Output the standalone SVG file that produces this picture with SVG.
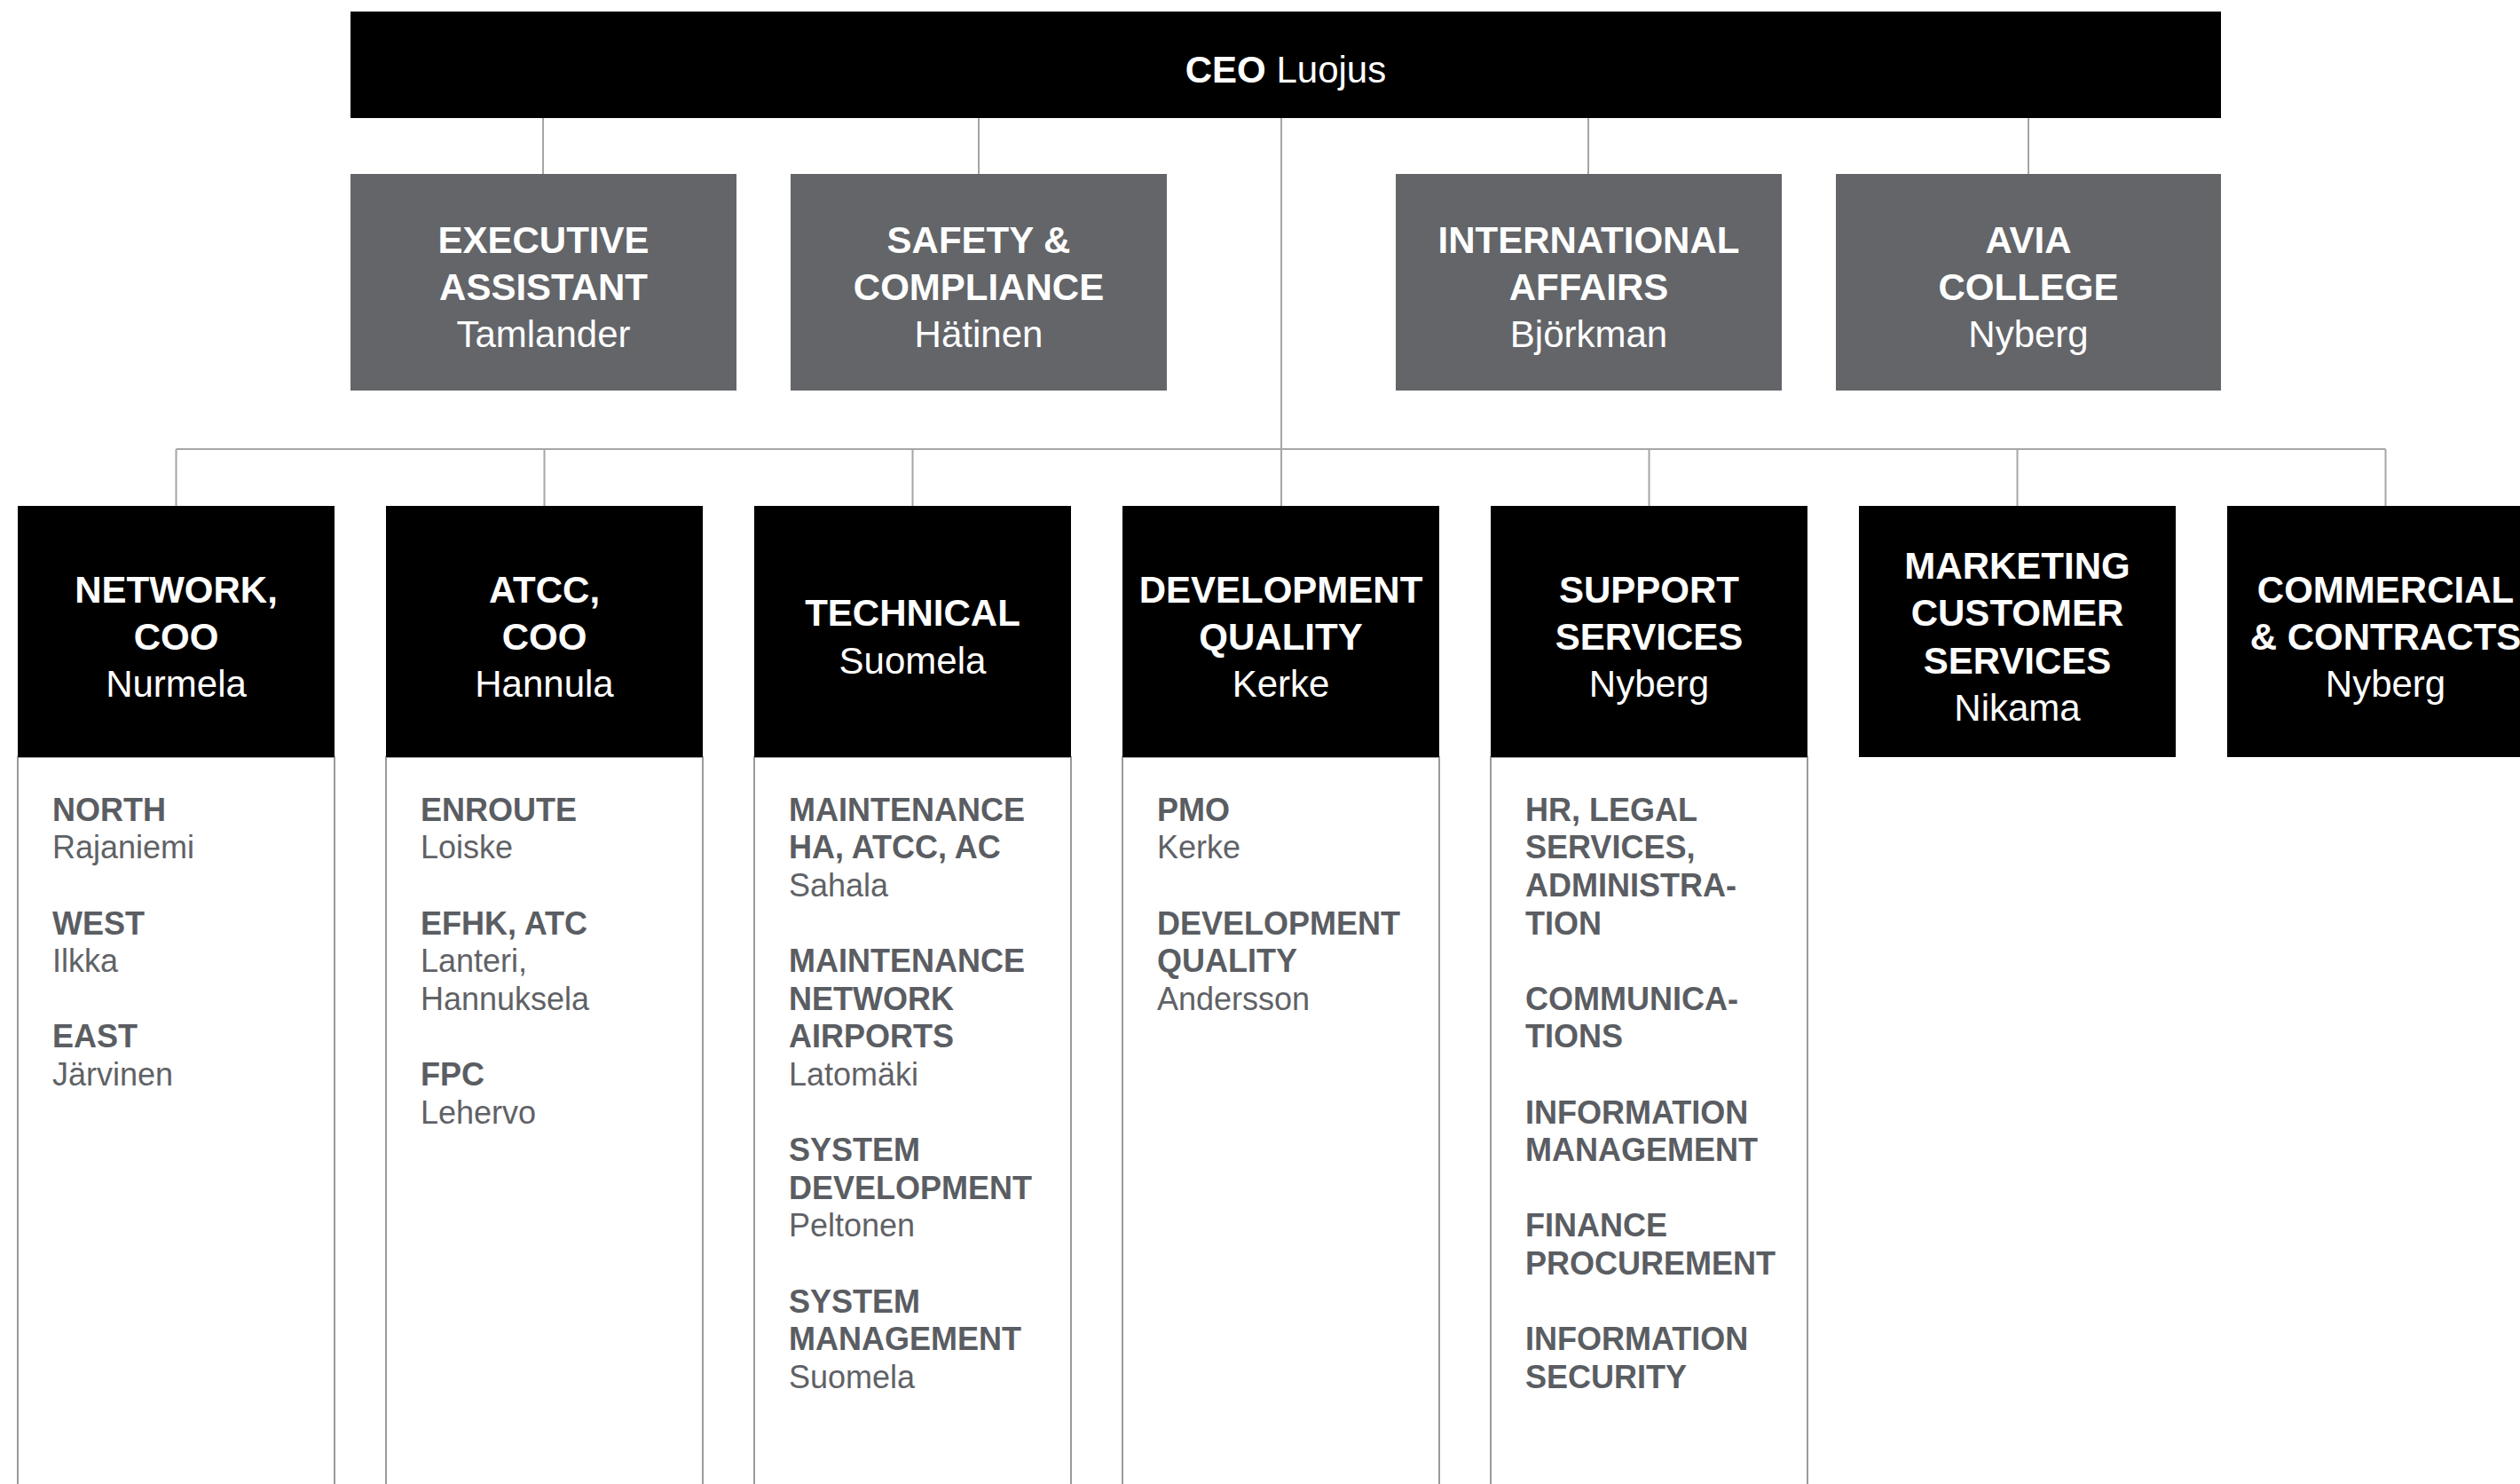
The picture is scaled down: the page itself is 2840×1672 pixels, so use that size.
<svg xmlns="http://www.w3.org/2000/svg" width="2840" height="1672" viewBox="0 0 2840 1672">
<style>
text{font-family:"Liberation Sans",Arial,sans-serif}
.hd{font-size:42px;fill:#fff;text-anchor:middle}
.b{font-weight:bold}
.grey{fill:#636569}
.blk{fill:#000}
.panel{fill:#fff;stroke:#9a9a9a;stroke-width:2}
.pt{font-size:36px;fill:#5f6266}
.pb{font-weight:bold;fill:#5a5d62}
.con{stroke:#a6a6a6;stroke-width:2;fill:none}
</style>
<rect width="2840" height="1672" fill="#fff"/>
<g id="connectors">
<path class="con" d="M1444 133V570M612 133V196M1103 133V196M1790 133V196M2286 133V196M198.5 506H2688.5M198.5 506V570M613.5 506V570M1028.5 506V570M1858.5 506V570M2273.5 506V570M2688.5 506V570"/>
</g>
<g id="ceo">
<rect class="blk" x="395" y="13" width="2108" height="120"/>
<text class="hd" x="1449" y="93"><tspan class="b">CEO</tspan> Luojus</text>
</g>
<g id="exec-assistant">
<rect class="grey" x="395" y="196" width="435" height="244"/>
<text class="hd"><tspan class="b" x="612.5" y="285">EXECUTIVE</tspan><tspan class="b" x="612.5" y="338">ASSISTANT</tspan><tspan x="612.5" y="391">Tamlander</tspan></text>
</g>
<g id="safety">
<rect class="grey" x="891" y="196" width="424" height="244"/>
<text class="hd"><tspan class="b" x="1103" y="285">SAFETY &amp;</tspan><tspan class="b" x="1103" y="338">COMPLIANCE</tspan><tspan x="1103" y="391">Hätinen</tspan></text>
</g>
<g id="international">
<rect class="grey" x="1573" y="196" width="435" height="244"/>
<text class="hd"><tspan class="b" x="1790.5" y="285">INTERNATIONAL</tspan><tspan class="b" x="1790.5" y="338">AFFAIRS</tspan><tspan x="1790.5" y="391">Björkman</tspan></text>
</g>
<g id="avia">
<rect class="grey" x="2069" y="196" width="434" height="244"/>
<text class="hd"><tspan class="b" x="2286" y="285">AVIA</tspan><tspan class="b" x="2286" y="338">COLLEGE</tspan><tspan x="2286" y="391">Nyberg</tspan></text>
</g>
<g id="network">
<rect class="panel" x="20" y="853" width="357" height="830"/>
<rect class="blk" x="20" y="570" width="357" height="283"/>
<text class="hd"><tspan class="b" x="198.5" y="679">NETWORK,</tspan><tspan class="b" x="198.5" y="732">COO</tspan><tspan x="198.5" y="785">Nurmela</tspan></text>
<text class="pt"><tspan class="pb" x="59" y="924.7">NORTH</tspan><tspan x="59" y="967.3">Rajaniemi</tspan><tspan class="pb" x="59" y="1052.5">WEST</tspan><tspan x="59" y="1095.1">Ilkka</tspan><tspan class="pb" x="59" y="1180.3">EAST</tspan><tspan x="59" y="1222.9">Järvinen</tspan></text>
</g>
<g id="atcc">
<rect class="panel" x="435" y="853" width="357" height="830"/>
<rect class="blk" x="435" y="570" width="357" height="283"/>
<text class="hd"><tspan class="b" x="613.5" y="679">ATCC,</tspan><tspan class="b" x="613.5" y="732">COO</tspan><tspan x="613.5" y="785">Hannula</tspan></text>
<text class="pt"><tspan class="pb" x="474" y="924.7">ENROUTE</tspan><tspan x="474" y="967.3">Loiske</tspan><tspan class="pb" x="474" y="1052.5">EFHK, ATC</tspan><tspan x="474" y="1095.1">Lanteri,</tspan><tspan x="474" y="1137.7">Hannuksela</tspan><tspan class="pb" x="474" y="1222.9">FPC</tspan><tspan x="474" y="1265.5">Lehervo</tspan></text>
</g>
<g id="technical">
<rect class="panel" x="850" y="853" width="357" height="830"/>
<rect class="blk" x="850" y="570" width="357" height="283"/>
<text class="hd"><tspan class="b" x="1028.5" y="705.3">TECHNICAL</tspan><tspan x="1028.5" y="758.6">Suomela</tspan></text>
<text class="pt"><tspan class="pb" x="889" y="924.7">MAINTENANCE</tspan><tspan class="pb" x="889" y="967.3">HA, ATCC, AC</tspan><tspan x="889" y="1009.9">Sahala</tspan><tspan class="pb" x="889" y="1095.1">MAINTENANCE</tspan><tspan class="pb" x="889" y="1137.7">NETWORK</tspan><tspan class="pb" x="889" y="1180.3">AIRPORTS</tspan><tspan x="889" y="1222.9">Latomäki</tspan><tspan class="pb" x="889" y="1308.1">SYSTEM</tspan><tspan class="pb" x="889" y="1350.7">DEVELOPMENT</tspan><tspan x="889" y="1393.3">Peltonen</tspan><tspan class="pb" x="889" y="1478.5">SYSTEM</tspan><tspan class="pb" x="889" y="1521.1">MANAGEMENT</tspan><tspan x="889" y="1563.7">Suomela</tspan></text>
</g>
<g id="development">
<rect class="panel" x="1265" y="853" width="357" height="830"/>
<rect class="blk" x="1265" y="570" width="357" height="283"/>
<text class="hd"><tspan class="b" x="1443.5" y="679">DEVELOPMENT</tspan><tspan class="b" x="1443.5" y="732">QUALITY</tspan><tspan x="1443.5" y="785">Kerke</tspan></text>
<text class="pt"><tspan class="pb" x="1304" y="924.7">PMO</tspan><tspan x="1304" y="967.3">Kerke</tspan><tspan class="pb" x="1304" y="1052.5">DEVELOPMENT</tspan><tspan class="pb" x="1304" y="1095.1">QUALITY</tspan><tspan x="1304" y="1137.7">Andersson</tspan></text>
</g>
<g id="support">
<rect class="panel" x="1680" y="853" width="357" height="830"/>
<rect class="blk" x="1680" y="570" width="357" height="283"/>
<text class="hd"><tspan class="b" x="1858.5" y="679">SUPPORT</tspan><tspan class="b" x="1858.5" y="732">SERVICES</tspan><tspan x="1858.5" y="785">Nyberg</tspan></text>
<text class="pt"><tspan class="pb" x="1719" y="924.7">HR, LEGAL</tspan><tspan class="pb" x="1719" y="967.3">SERVICES,</tspan><tspan class="pb" x="1719" y="1009.9">ADMINISTRA-</tspan><tspan class="pb" x="1719" y="1052.5">TION</tspan><tspan class="pb" x="1719" y="1137.7">COMMUNICA-</tspan><tspan class="pb" x="1719" y="1180.3">TIONS</tspan><tspan class="pb" x="1719" y="1265.5">INFORMATION</tspan><tspan class="pb" x="1719" y="1308.1">MANAGEMENT</tspan><tspan class="pb" x="1719" y="1393.3">FINANCE</tspan><tspan class="pb" x="1719" y="1435.9">PROCUREMENT</tspan><tspan class="pb" x="1719" y="1521.1">INFORMATION</tspan><tspan class="pb" x="1719" y="1563.7">SECURITY</tspan></text>
</g>
<g id="marketing">
<rect class="blk" x="2095" y="570" width="357" height="283"/>
<text class="hd"><tspan class="b" x="2273.5" y="652">MARKETING</tspan><tspan class="b" x="2273.5" y="705.3">CUSTOMER</tspan><tspan class="b" x="2273.5" y="758.6">SERVICES</tspan><tspan x="2273.5" y="812">Nikama</tspan></text>
</g>
<g id="commercial">
<rect class="blk" x="2510" y="570" width="357" height="283"/>
<text class="hd"><tspan class="b" x="2688.5" y="679">COMMERCIAL</tspan><tspan class="b" x="2688.5" y="732">&amp; CONTRACTS</tspan><tspan x="2688.5" y="785">Nyberg</tspan></text>
</g>
</svg>
